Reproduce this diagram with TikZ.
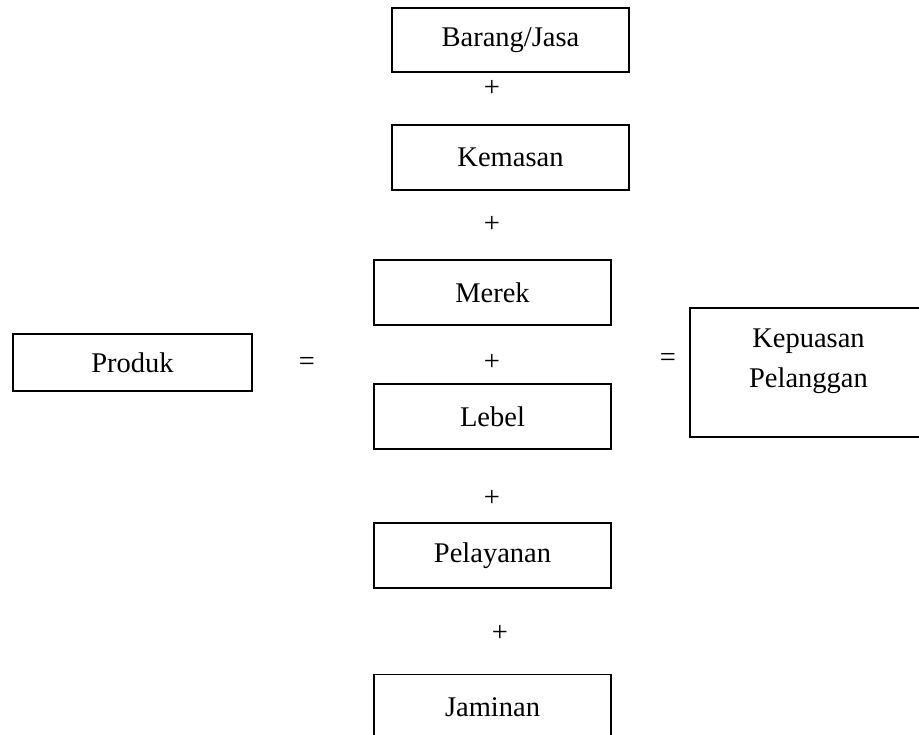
\documentclass[tikz,border=0pt]{standalone}
\usepackage{fontspec}
\setmainfont{Liberation Serif}
\begin{document}
\begin{tikzpicture}[x=1pt,y=-1pt,
  box/.style={draw=black, line width=1.6pt, rectangle, minimum width=237pt, minimum height=65pt, inner sep=0pt, font=\fontsize{28.5}{40}\selectfont},
  op/.style={inner sep=0pt, font=\fontsize{28.5}{40}\selectfont}]
\clip (0,0) rectangle (919,735);
\useasboundingbox (0,0) rectangle (919,735);
\node[box, minimum height=64pt] (bj) at (510.5,40) {Barang/Jasa};
\node[box] (km) at (510.5,157.5) {Kemasan};
\node[box] (mr) at (492.5,292.5) {Merek};
\node[box] (lb) at (492.5,416.5) {Lebel};
\node[box] (pl) at (492.5,555.5) {Pelayanan};
\node[box] (jm) at (492.5,707) {Jaminan};
\node[box, minimum width=239pt, minimum height=57pt] (pr) at (132.5,362.5) {Produk};
\node[box, minimum width=320pt, minimum height=129pt] (kp) at (850,372.5) {};
\node[op, align=center, anchor=north] (kpt) at (808.5,329) {Kepuasan\\Pelanggan};
\node[op] (p1) at (492,88) {+};
\node[op] (p2) at (492,224) {+};
\node[op] (p3) at (492,362) {+};
\node[op] (p4) at (492,498) {+};
\node[op] (p5) at (500,633) {+};
\node[op] (e1) at (307,364) {=};
\node[op] (e2) at (668,360) {=};
\end{tikzpicture}
\end{document}
